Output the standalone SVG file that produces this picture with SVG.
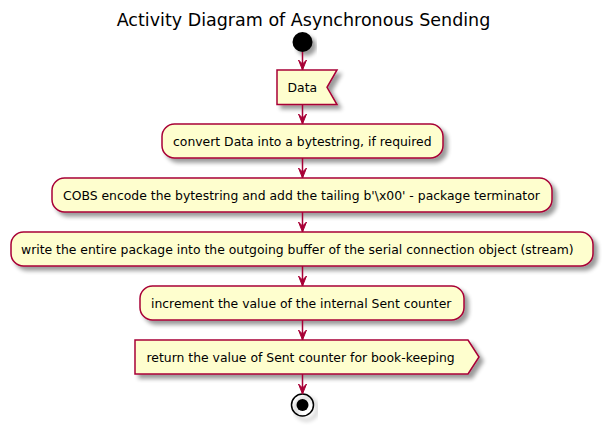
<svg xmlns="http://www.w3.org/2000/svg" width="609" height="432" viewBox="0 0 609 432">
<defs>
<filter id="sh" x="-10%" y="-20%" width="130%" height="160%">
<feGaussianBlur in="SourceAlpha" stdDeviation="2"/>
<feOffset dx="4" dy="4" result="b"/>
<feComponentTransfer><feFuncA type="linear" slope="0.4"/></feComponentTransfer>
<feMerge><feMergeNode/><feMergeNode in="SourceGraphic"/></feMerge>
</filter>
<marker id="ah" viewBox="0 0 10 12" refX="5" refY="10" markerWidth="10" markerHeight="12" markerUnits="userSpaceOnUse" orient="0">
<polygon points="1,0 5,10 9,0 5,4" fill="#A80036" stroke="#A80036" stroke-width="1"/>
</marker>
</defs>
<style>
.box{fill:#FEFECE;stroke:#A80036;stroke-width:1.5;filter:url(#sh)}
.t{font-family:"DejaVu Sans",sans-serif;font-size:12.4px;fill:#000}
.ttl{font-family:"DejaVu Sans",sans-serif;font-size:17.5px;fill:#000}
.c{stroke:#A80036;stroke-width:1.5;fill:none}
</style>
<rect width="609" height="432" fill="#FFFFFF"/>
<text class="ttl" x="303.5" y="26" text-anchor="middle">Activity Diagram of Asynchronous Sending</text>
<g id="start"><circle cx="302.5" cy="42" r="10" fill="#000" filter="url(#sh)"/></g>
<g id="data"><polygon class="box" points="277,70 337,70 327,87.3 337,104.6 277,104.6"/><text class="t" x="287.5" y="92">Data</text></g>
<g id="convert"><rect class="box" x="162" y="124" width="281" height="34" rx="12.5"/><text class="t" x="173" y="145.5">convert Data into a bytestring, if required</text></g>
<g id="cobs"><rect class="box" x="52" y="178" width="500" height="34" rx="12.5"/><text class="t" x="63" y="199.5">COBS encode the bytestring and add the tailing b'\x00' - package terminator</text></g>
<g id="write"><rect class="box" x="11" y="232" width="582" height="34" rx="12.5"/><text class="t" x="21" y="253.5">write the entire package into the outgoing buffer of the serial connection object (stream)</text></g>
<g id="increment"><rect class="box" x="140" y="286" width="324" height="34" rx="12.5"/><text class="t" x="151" y="307.5">increment the value of the internal Sent counter</text></g>
<g id="return"><polygon class="box" points="135,340 468,340 479,357 468,374 135,374"/><text class="t" x="146.5" y="361.5">return the value of Sent counter for book-keeping</text></g>
<g id="end"><circle cx="302.5" cy="405" r="11" fill="none" stroke="#000" stroke-width="1.5" filter="url(#sh)"/><circle cx="302.5" cy="405" r="6" fill="#000"/></g>
<g id="connectors">
<line class="c" x1="302.5" y1="52" x2="302.5" y2="70" marker-end="url(#ah)"/>
<line class="c" x1="302.5" y1="104.6" x2="302.5" y2="124" marker-end="url(#ah)"/>
<line class="c" x1="302.5" y1="158" x2="302.5" y2="178" marker-end="url(#ah)"/>
<line class="c" x1="302.5" y1="212" x2="302.5" y2="232" marker-end="url(#ah)"/>
<line class="c" x1="302.5" y1="266" x2="302.5" y2="286" marker-end="url(#ah)"/>
<line class="c" x1="302.5" y1="320" x2="302.5" y2="340" marker-end="url(#ah)"/>
<line class="c" x1="302.5" y1="374" x2="302.5" y2="394" marker-end="url(#ah)"/>
</g>
</svg>
